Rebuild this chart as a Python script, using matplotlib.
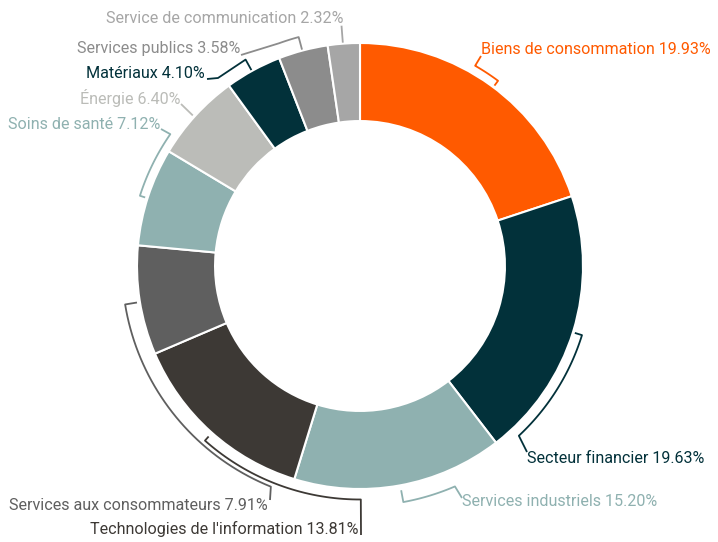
import numpy as np
import matplotlib.pyplot as plt

sectors = ['Biens de consommation', 'Secteur financier', 'Services industriels',
           "Technologies de l'information", 'Services aux consommateurs',
           'Soins de santé', 'Énergie', 'Matériaux', 'Services publics',
           'Service de communication']
weights = [19.93, 19.63, 15.20, 13.81, 7.91, 7.12, 6.40, 4.10, 3.58, 2.32]
colors = ['#FF5A00', '#02313A', '#8FB1B0', '#3D3935', '#5F5F5F',
          '#8FB1B0', '#BBBCB8', '#02313A', '#8C8C8C', '#A6A6A6']
text_colors = ['#FF5A00', '#02313A', '#8FB1B0', '#3D3935', '#5F5F5F',
               '#8FB1B0', '#BBBCB8', '#02313A', '#8C8C8C', '#A6A6A6']

plt.rcParams['font.family'] = ['Roboto', 'DejaVu Sans']

R = 223.0          # outer radius in pixels
CX, CY = 360, 266  # centre in pixels


def px(x, y):
    return (x - CX) / R, (CY - y) / R


def polar(theta, r):
    t = np.radians(theta)
    return r / R * np.sin(t), r / R * np.cos(t)


# bracket layout: tick angle, arc end angle, arc radius, tick inner radius,
# leader points (px), text position (px), alignment
layout = [
    (36.7, 29.9, 231, 225, [(481, 56)], (481, 50), 'left'),
    (107.3, 136.9, 232.5, 225, [(527, 452)], (527, 459), 'left'),
    (169.6, 156.7, 240, 228, [(462, 498)], (462, 501), 'left'),
    (221.6, 179.8, 233.5, 228, [(361, 535)], (358, 529), 'right'),
    (260.7, 202.0, 238, 226, [(270, 500)], (268, 506), 'right'),
    (287.7, 304.8, 231, 225.5, [(161, 129)], (160, 125), 'right'),
    (312.0, 312.0, 225, 225, [(181, 104)], (180, 98), 'right'),
    (331.0, 331.0, 236, 224, [(218, 78), (207, 79)], (205, 74), 'right'),
    (345.0, 340.0, 237, 224, [(241, 55)], (240, 49), 'right'),
    (355.6, 355.6, 241, 224, [], (343, 19), 'right'),
]

fig = plt.figure(figsize=(7.18, 5.42), dpi=100)
ax = fig.add_axes([0, 0, 1, 1])
ax.pie(weights, colors=colors, startangle=90, counterclock=False, radius=1,
       wedgeprops=dict(width=0.35, edgecolor='white', linewidth=1.5))

for name, w, col, tcol, lay in zip(sectors, weights, colors, text_colors, layout):
    a0, a1, rarc, rin, leader, txy, ha = lay
    pts = [polar(a0, rin)]
    for a in np.linspace(a0, a1, 40):
        pts.append(polar(a, rarc))
    for p in leader:
        pts.append(px(*p))
    xs, ys = zip(*pts)
    ax.plot(xs, ys, color=col, lw=1.3, solid_capstyle='butt')
    tx, ty = px(*txy)
    ax.text(tx, ty, f'{name} {w:.2f}%', color=tcol, fontsize=11.6,
            ha=ha, va='center')

ax.set_xlim(-CX / R, (718 - CX) / R)
ax.set_ylim((CY - 542) / R, CY / R)
ax.set_aspect('auto')
ax.axis('off')

plt.savefig('out.png', dpi=100)
